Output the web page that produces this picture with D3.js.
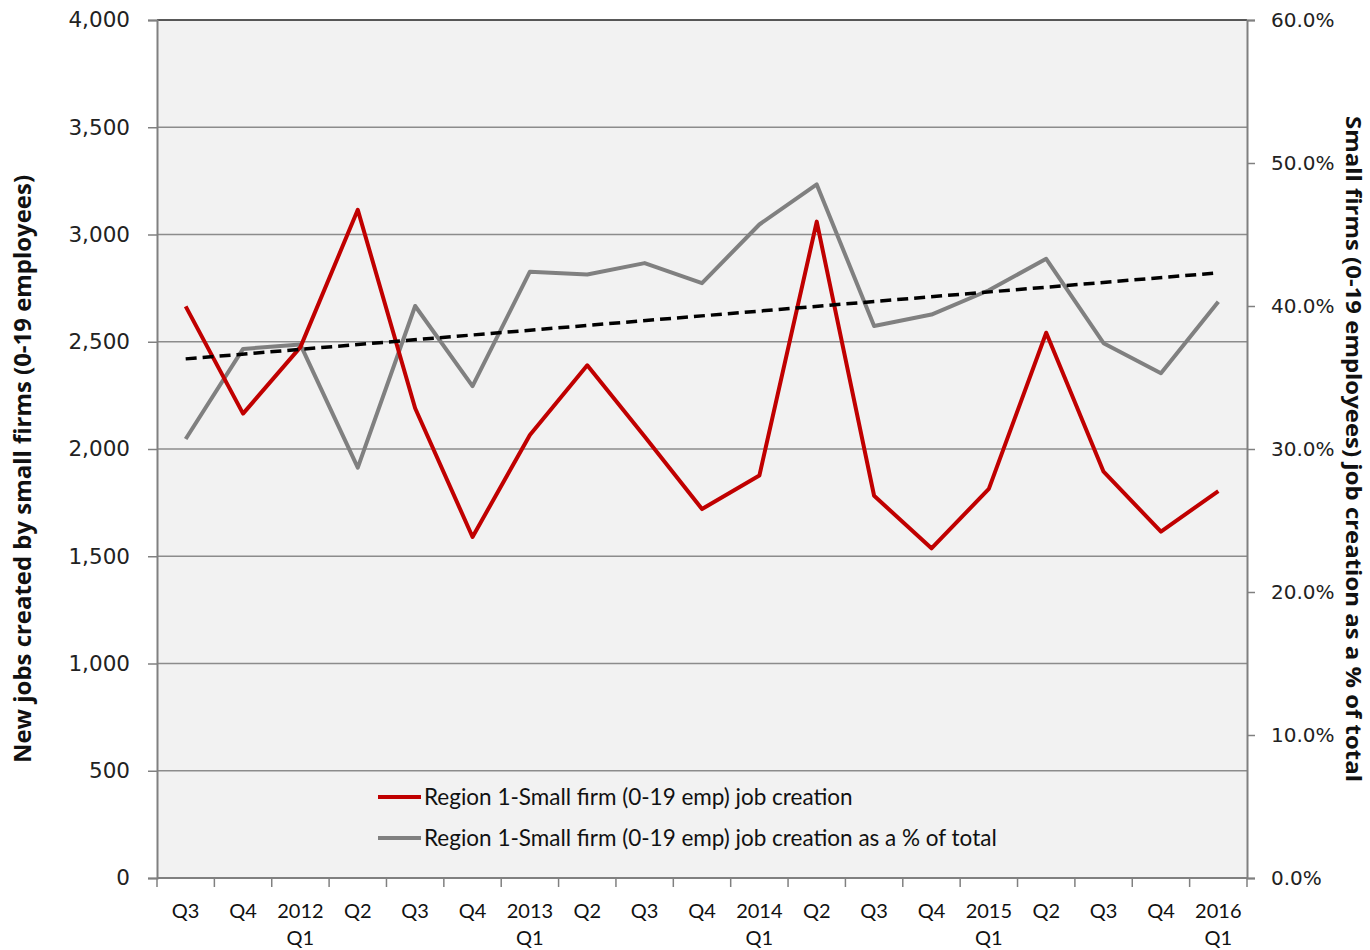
<!DOCTYPE html>
<html>
<head>
<meta charset="utf-8">
<script src="https://d3js.org/d3.v7.min.js"></script>
<style>
  body { margin: 0; background: #fff; }
  .tick text { font-family: "DejaVu Sans", Verdana, sans-serif; font-size: 21.5px; fill: #222; }
  .xlab { font-family: Lato, "Open Sans", sans-serif; font-size: 20px; fill: #111; }
  .title { font-family: "Liberation Sans Narrow", "Arial Narrow", "Open Sans", sans-serif; font-weight: bold; font-size: 23px; fill: #111; }
  .legend text { font-family: Lato, "Open Sans", sans-serif; font-size: 22.5px; fill: #111; }
</style>
</head>
<body>
<svg id="chart" width="1370" height="950"></svg>
<script>

// quarters on the x axis (top line / second line)
var quarters = ["Q3", "Q4", "2012", "Q2", "Q3", "Q4", "2013", "Q2", "Q3", "Q4",
                "2014", "Q2", "Q3", "Q4", "2015", "Q2", "Q3", "Q4", "2016"];
var quarters2 = ["", "", "Q1", "", "", "", "Q1", "", "", "",
                 "Q1", "", "", "", "Q1", "", "", "", "Q1"];

// new jobs created by small firms (left axis)
var jobs = [2665, 2165, 2475, 3115, 2190, 1590, 2065, 2390, 2058, 1720,
            1876, 3060, 1782, 1537, 1814, 2542, 1894, 1615, 1804];

// small firm job creation as % of total (right axis)
var share = [30.7, 37.0, 37.3, 28.7, 40.0, 34.4, 42.4, 42.2, 43.0, 41.6,
             45.7, 48.5, 38.6, 39.4, 41.1, 43.3, 37.4, 35.3, 40.3];

var leftTicks = [0, 500, 1000, 1500, 2000, 2500, 3000, 3500, 4000];
var rightTicks = [0, 10, 20, 30, 40, 50, 60];

var seriesNames = ["Region 1-Small firm (0-19 emp) job creation",
                   "Region 1-Small firm (0-19 emp) job creation as a % of total"];

var margin = {top: 20, right: 123, bottom: 72, left: 157},
    width = 1370 - margin.left - margin.right,
    height = 950 - margin.top - margin.bottom;

var svg = d3.select("#chart");
var g = svg.append("g")
    .attr("transform", "translate(" + margin.left + "," + margin.top + ")");

var x = d3.scaleBand().domain(d3.range(quarters.length)).range([0, width]);
var xc = function(i) { return x(i) + x.bandwidth() / 2; };
var yL = d3.scaleLinear().domain([0, 4000]).range([height, 0]);
var yR = d3.scaleLinear().domain([0, 60]).range([height, 0]);

// plot background
g.append("rect")
    .attr("width", width).attr("height", height)
    .attr("fill", "#f2f2f2");

// gridlines
g.selectAll(".grid")
    .data(leftTicks.slice(1, -1))
  .enter().append("line")
    .attr("x1", 0).attr("x2", width)
    .attr("y1", function(d) { return yL(d); })
    .attr("y2", function(d) { return yL(d); })
    .attr("stroke", "#8c8c8c").attr("stroke-width", 1.5);

g.append("line")
    .attr("x1", 0).attr("x2", width)
    .attr("y1", 0).attr("y2", 0)
    .attr("stroke", "#222").attr("stroke-width", 1.5);

// left axis
var axL = g.append("g")
    .call(d3.axisLeft(yL).tickValues(leftTicks).tickFormat(d3.format(",")).tickSize(9).tickPadding(18));
axL.select(".domain").attr("stroke", "#808080").attr("stroke-width", 2);
axL.selectAll(".tick line").attr("stroke", "#808080").attr("stroke-width", 1.5);

// right axis
var axR = g.append("g")
    .attr("transform", "translate(" + width + ",0)")
    .call(d3.axisRight(yR).tickValues(rightTicks).tickFormat(function(d) { return d.toFixed(1) + "%"; })
          .tickSize(8).tickPadding(16));
axR.select(".domain").attr("stroke", "#808080").attr("stroke-width", 2);
axR.selectAll(".tick line").attr("stroke", "#808080").attr("stroke-width", 1.5);
axR.selectAll(".tick text").style("font-size", "20px");

// bottom axis line and ticks at category boundaries
g.append("line")
    .attr("x1", 0).attr("x2", width)
    .attr("y1", height).attr("y2", height)
    .attr("stroke", "#808080").attr("stroke-width", 2);
g.selectAll(".xtick")
    .data(d3.range(quarters.length + 1))
  .enter().append("line")
    .attr("x1", function(i) { return i * x.step(); })
    .attr("x2", function(i) { return i * x.step(); })
    .attr("y1", height).attr("y2", height + 9)
    .attr("stroke", "#808080").attr("stroke-width", 1.5);

g.selectAll(".xlab1")
    .data(quarters)
  .enter().append("text")
    .attr("class", "xlab")
    .attr("x", function(d, i) { return xc(i); })
    .attr("y", height + 40)
    .attr("text-anchor", "middle")
    .text(function(d) { return d; });
g.selectAll(".xlab2")
    .data(quarters2)
  .enter().append("text")
    .attr("class", "xlab")
    .attr("x", function(d, i) { return xc(i); })
    .attr("y", height + 67)
    .attr("text-anchor", "middle")
    .text(function(d) { return d; });

// linear trendline of the % series (least squares, as in the source chart)
var idx = d3.range(share.length);
var mx = d3.mean(idx), my = d3.mean(share);
var slope = d3.sum(idx, function(i) { return (i - mx) * (share[i] - my); }) /
            d3.sum(idx, function(i) { return (i - mx) * (i - mx); });
var icpt = my - slope * mx;

var lineL = d3.line().x(function(d, i) { return xc(i); }).y(function(d) { return yL(d); });
var lineR = d3.line().x(function(d, i) { return xc(i); }).y(function(d) { return yR(d); });

g.append("path")
    .datum(share)
    .attr("d", lineR)
    .attr("fill", "none").attr("stroke", "#808080").attr("stroke-width", 4)
    .attr("stroke-linejoin", "round");

g.append("path")
    .datum(jobs)
    .attr("d", lineL)
    .attr("fill", "none").attr("stroke", "#c00000").attr("stroke-width", 4)
    .attr("stroke-linejoin", "round");

g.append("line")
    .attr("x1", xc(0)).attr("y1", yR(icpt))
    .attr("x2", xc(share.length - 1)).attr("y2", yR(icpt + slope * (share.length - 1)))
    .attr("stroke", "#000").attr("stroke-width", 3.5)
    .attr("stroke-dasharray", "11,6");

// legend
var legend = g.append("g").attr("class", "legend");
var lgColors = ["#c00000", "#808080"];
seriesNames.forEach(function(name, i) {
  var ly = 797 + i * 41 - margin.top;
  legend.append("line")
      .attr("x1", 378 - margin.left).attr("x2", 421 - margin.left)
      .attr("y1", ly).attr("y2", ly)
      .attr("stroke", lgColors[i]).attr("stroke-width", 4);
  legend.append("text")
      .attr("x", 424 - margin.left).attr("y", ly + 8)
      .text(name);
});

// axis titles
svg.append("text")
    .attr("class", "title")
    .attr("transform", "translate(31," + (margin.top + height / 2 + 20) + ") rotate(-90)")
    .attr("text-anchor", "middle")
    .attr("textLength", 588).attr("lengthAdjust", "spacingAndGlyphs")
    .text("New jobs created by small firms (0-19 employees)");

svg.append("text")
    .attr("class", "title")
    .attr("transform", "translate(1346," + (margin.top + height / 2) + ") rotate(90)")
    .attr("text-anchor", "middle")
    .style("font-size", "21px")
    .attr("textLength", 666).attr("lengthAdjust", "spacingAndGlyphs")
    .text("Small firms (0-19 employees) job creation as a % of total");

</script>
</body>
</html>
